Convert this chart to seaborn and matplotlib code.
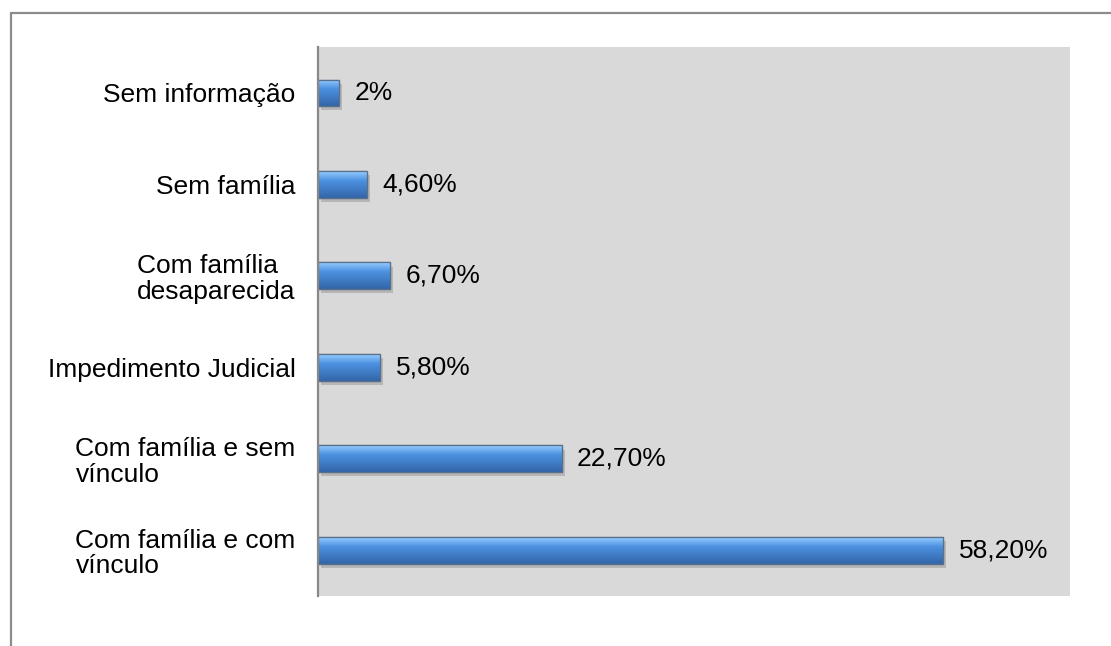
import numpy as np
import pandas as pd
import matplotlib
matplotlib.use("Agg")
import matplotlib.pyplot as plt
import matplotlib.patheffects as pe
from matplotlib.lines import Line2D
import seaborn as sns

categories = [
    "Sem informação",
    "Sem família",
    "Com família \ndesaparecida",
    "Impedimento Judicial",
    "Com família e sem\nvínculo",
    "Com família e com\nvínculo",
]
values = [2.0, 4.6, 6.7, 5.8, 22.7, 58.2]
value_labels = ["2%", "4,60%", "6,70%", "5,80%", "22,70%", "58,20%"]

sns.set_theme(style="white")
plt.rcParams["font.family"] = ["Liberation Sans", "DejaVu Sans"]

df = pd.DataFrame({"categoria": categories, "valor": values})

fig = plt.figure(figsize=(11.11, 6.46), dpi=100)
ax = fig.add_axes([0.2862, 0.0774, 0.6769, 0.8498])
ax.set_facecolor("#D9D9D9")

sns.barplot(data=df, x="valor", y="categoria", orient="h", ax=ax,
            color="#4A8AD4", width=0.29, edgecolor="#5a6f88", linewidth=0.9)

ax.set_xlim(0, 70)
ylim = ax.get_ylim()

# vertical gradient for a glossy cylinder look
light = np.array([0.58, 0.80, 1.00])
mid = np.array([0.30, 0.57, 0.88])
dark = np.array([0.20, 0.40, 0.66])
rows = []
for t in np.linspace(0, 1, 40):
    if t < 0.35:
        c = light + (mid - light) * (t / 0.35)
    else:
        c = mid + (dark - mid) * ((t - 0.35) / 0.65)
    rows.append(c)
img = np.array(rows)[:, None, :]

shadow = [pe.SimplePatchShadow(offset=(2, -3), shadow_rgbFace="#777777", alpha=0.35), pe.Normal()]
for patch in ax.patches:
    x0, y0 = patch.get_x(), patch.get_y()
    w, h = patch.get_width(), patch.get_height()
    patch.set_path_effects(shadow)
    im = ax.imshow(img, extent=(x0, x0 + w, y0 + h, y0), origin="upper",
                   aspect="auto", interpolation="bilinear", zorder=patch.get_zorder() + 0.1)
    im.set_clip_path(patch)
    # thin outline on top of the gradient
    ax.add_patch(plt.Rectangle((x0, y0), w, h, fill=False, edgecolor="#5a6f88",
                               linewidth=0.9, zorder=patch.get_zorder() + 0.2))

ax.set_xlim(0, 70)
ax.set_ylim(ylim)

ax.bar_label(ax.containers[0], labels=value_labels, padding=11, fontsize=19, color="black")

ax.set_xlabel("")
ax.set_ylabel("")
ax.set_xticks([])
ax.tick_params(axis="y", length=0, pad=16)
for lab in ax.get_yticklabels():
    lab.set_fontsize(19)
    lab.set_color("black")
    lab.set_multialignment("left")
    lab.set_linespacing(1.08)

for side in ["top", "right", "bottom"]:
    ax.spines[side].set_visible(False)
ax.spines["left"].set_color("#888888")
ax.spines["left"].set_linewidth(1.6)

# outer chart frame
W, H = 1111, 646
fig.add_artist(Line2D([11 / W, 1.0], [1 - 13 / H, 1 - 13 / H], color="#8C8C8C", linewidth=1.6))
fig.add_artist(Line2D([11 / W, 11 / W], [1 - 13 / H, 0.0], color="#8C8C8C", linewidth=1.6))

fig.savefig("out.png", dpi=100, facecolor="white")
